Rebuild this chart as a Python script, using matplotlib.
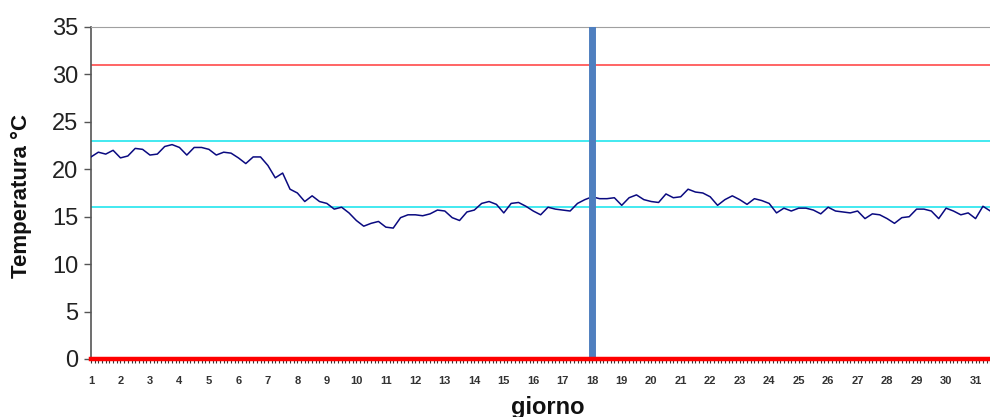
import matplotlib.pyplot as plt
import numpy as np
from matplotlib.ticker import MultipleLocator

# readings every 6 hours, starting at day 1 00:00
temperature = [
    21.3, 21.8, 21.6, 22.0, 21.2, 21.4, 22.2, 22.1,   # 1-2
    21.5, 21.6, 22.4, 22.6, 22.3, 21.5, 22.3, 22.3,   # 3-4
    22.1, 21.5, 21.8, 21.7, 21.2, 20.6, 21.3, 21.3,   # 5-6
    20.4, 19.1, 19.6, 17.9, 17.5, 16.6, 17.2, 16.6,   # 7-8
    16.4, 15.8, 16.0, 15.4, 14.6, 14.0, 14.3, 14.5,   # 9-10
    13.9, 13.8, 14.9, 15.2, 15.2, 15.1, 15.3, 15.7,   # 11-12
    15.6, 14.9, 14.6, 15.5, 15.7, 16.4, 16.6, 16.3,   # 13-14
    15.4, 16.4, 16.5, 16.1, 15.6, 15.2, 16.0, 15.8,   # 15-16
    15.7, 15.6, 16.4, 16.8, 17.1, 16.9, 16.9, 17.0,   # 17-18
    16.2, 17.0, 17.3, 16.8, 16.6, 16.5, 17.4, 17.0,   # 19-20
    17.1, 17.9, 17.6, 17.5, 17.1, 16.2, 16.8, 17.2,   # 21-22
    16.8, 16.3, 16.9, 16.7, 16.4, 15.4, 15.9, 15.6,   # 23-24
    15.9, 15.9, 15.7, 15.3, 16.0, 15.6, 15.5, 15.4,   # 25-26
    15.6, 14.8, 15.3, 15.2, 14.8, 14.3, 14.9, 15.0,   # 27-28
    15.8, 15.8, 15.6, 14.8, 15.9, 15.6, 15.2, 15.4,   # 29-30
    14.8, 16.1, 15.6,                                 # 31
]
day = 1 + np.arange(len(temperature)) / 4

limit_high = 31
comfort_band = [16, 23]
limit_low = 0
marker_day = 18
day_ticks = list(range(1, 32))
temp_ticks = [0, 5, 10, 15, 20, 25, 30, 35]

plt.rcParams['font.family'] = ['Liberation Sans', 'DejaVu Sans']

fig = plt.figure(figsize=(9.9, 4.17), dpi=100)
ax = fig.add_axes([0.0919, 0.1391, 0.9233, 0.7962])

ax.axhline(limit_high, color='#ff4a4a', lw=1.2, zorder=2)
for t in comfort_band:
    ax.axhline(t, color='#22e5ee', lw=1.2, zorder=2)
ax.plot(day, temperature, color='#0a0a80', lw=1.1, zorder=3)
ax.axvline(marker_day, ymin=0.012, ymax=1, color='#4f7fbf', lw=5, zorder=4)
ax.axhline(limit_low, color='#ff0000', lw=3.2, zorder=5, clip_on=False)

ax.set_xlim(1, 32)
ax.set_ylim(0, 35)
ax.set_xticks(day_ticks)
ax.set_yticks(temp_ticks)
ax.xaxis.set_minor_locator(MultipleLocator(0.125))

ax.tick_params(axis='x', which='both', direction='out', length=3, width=0.8,
               color='#333333', pad=9, labelsize=8, labelcolor='#333333')
ax.tick_params(axis='y', direction='out', length=5, width=1, color='#555555',
               labelsize=17, labelcolor='#222222', pad=4)

for lab in ax.get_xticklabels():
    lab.set_fontweight('bold')

ax.spines['top'].set_color('#a0a0a0')
ax.spines['left'].set_color('#555555')
ax.spines['left'].set_linewidth(1.2)
ax.spines['right'].set_visible(False)
ax.spines['bottom'].set_visible(False)

ax.set_ylabel('Temperatura °C', fontsize=16, fontweight='bold', color='#111111')
ax.yaxis.set_label_coords(-0.065, 0.49)
ax.set_xlabel('giorno', fontsize=17, fontweight='bold', color='#111111')
ax.xaxis.set_label_coords(0.5, -0.112)

fig.savefig('out.png', dpi=100)
